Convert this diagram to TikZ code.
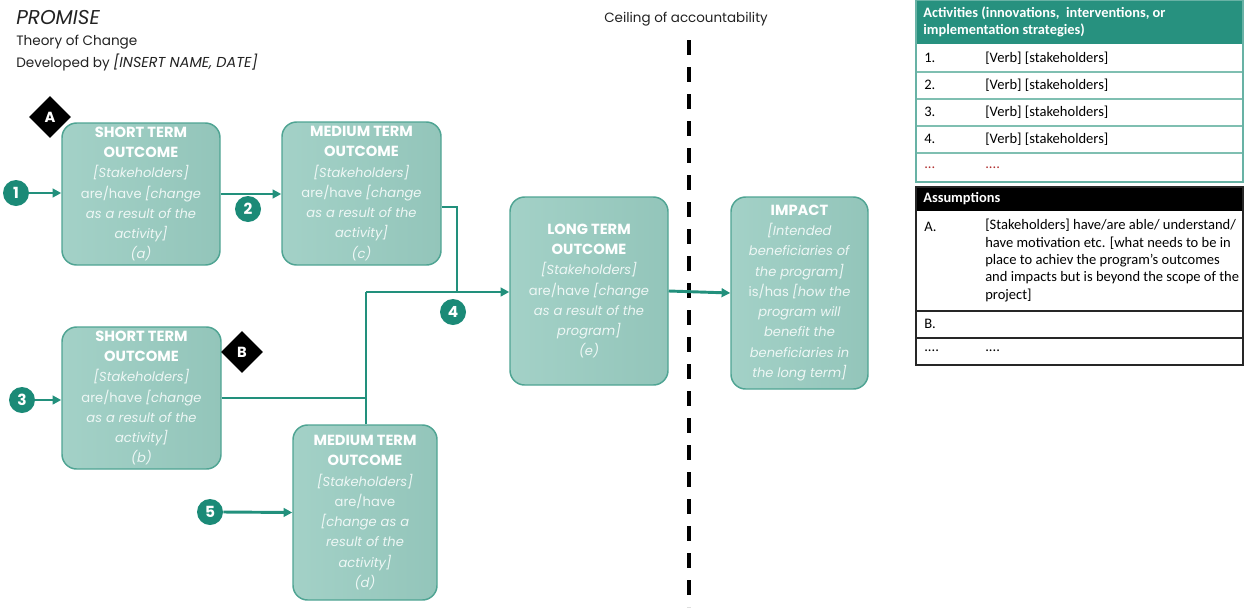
\documentclass[tikz,border=0pt]{standalone}
\usepackage{fontspec}
\setmainfont{Poppins}
\newfontfamily\calib{Carlito}
\usetikzlibrary{shapes.geometric,arrows.meta,calc}
\definecolor{boxL}{HTML}{A3D1C7}
\definecolor{boxR}{HTML}{93C5BA}
\definecolor{boxB}{HTML}{4FA493}
\definecolor{tealdk}{HTML}{1B8A77}
\definecolor{arrc}{HTML}{22907C}
\definecolor{hdteal}{HTML}{27917F}
\definecolor{rowline}{HTML}{7FBFB1}
\definecolor{dotred}{HTML}{B03030}
\definecolor{txt}{HTML}{222222}
\definecolor{bodytxt}{HTML}{EEF7F5}
\newcommand\hd[1]{{\color{white}\fontsize{11}{15.2}\selectfont\bfseries #1}}
\begin{document}
\begin{tikzpicture}[x=0.75pt,y=-0.75pt,
  box/.style={draw=boxB,line width=1.1pt,left color=boxL,right color=boxR,rounded corners=11pt,
    align=center,text=bodytxt,font=\fontsize{9.8}{15.2}\selectfont,inner sep=0pt},
  num/.style={circle,fill=tealdk,text=white,minimum size=19.5pt,inner sep=0pt,font=\fontsize{11.5}{11}\selectfont\bfseries},
  dia/.style={diamond,aspect=1,fill=black,text=white,minimum size=31.5pt,inner sep=0pt,font=\fontsize{11}{11}\selectfont\bfseries},
  line/.style={draw=arrc,line width=2.2pt},
  arr/.style={line,-{Triangle[length=6.5pt,width=6.5pt]}},
  ttxt/.style={anchor=west,inner sep=0pt,font=\calib\fontsize{10.9}{13}\selectfont,text=black},
  thd/.style={anchor=west,inner sep=0pt,font=\calib\fontsize{10.8}{13}\selectfont\bfseries,text=white,align=left}
]
\useasboundingbox (0,0) rectangle (1244,607);

% title
\node[anchor=west,inner sep=0pt,text=txt,font=\fontsize{15}{15}\selectfont\itshape] (t1) at (16,18) {PROMISE};
\node[anchor=west,inner sep=0pt,text=txt,font=\fontsize{10.2}{12}\selectfont] (t2) at (16,42) {Theory of Change};
\node[anchor=west,inner sep=0pt,text=txt,font=\fontsize{10.2}{12}\selectfont] (t3) at (16,62) {Developed by \textit{\fontsize{10.8}{12}\selectfont[INSERT NAME, DATE]}};
\node[inner sep=0pt,text=txt,font=\fontsize{10.1}{12}\selectfont] (ceil) at (686,19) {Ceiling of accountability};

% dashed ceiling line
\coordinate (dtop) at (689,40);
\coordinate (dbot) at (689,607);
\draw[black,line width=2.5pt,dash pattern=on 11.25pt off 9pt] (dtop) -- (dbot);

% boxes
\node[box,minimum width=118.5pt,minimum height=106.5pt] (a) at (141,194)
 {\hd{SHORT TERM}\\\hd{OUTCOME}\\\textit{[Stakeholders]}\\are/have \textit{[change}\\\textit{as a result of the}\\\textit{activity]}\\\textit{(a)}};
\node[box,minimum width=119.25pt,minimum height=107.25pt] (c) at (361.5,193.5)
 {\hd{MEDIUM TERM}\\\hd{OUTCOME}\\\textit{[Stakeholders]}\\are/have \textit{[change}\\\textit{as a result of the}\\\textit{activity]}\\\textit{(c)}};
\node[box,minimum width=119.25pt,minimum height=106.5pt] (b) at (141.5,398)
 {\hd{SHORT TERM}\\\hd{OUTCOME}\\\textit{[Stakeholders]}\\are/have \textit{[change}\\\textit{as a result of the}\\\textit{activity]}\\\textit{(b)}};
\node[box,minimum width=108pt,minimum height=131.25pt] (d) at (365,512.5)
 {\hd{MEDIUM TERM}\\\hd{OUTCOME}\\\textit{[Stakeholders]}\\are/have\\\textit{[change as a}\\\textit{result of the}\\\textit{activity]}\\\textit{(d)}};
\node[box,minimum width=118.5pt,minimum height=141pt] (e) at (589,291)
 {\hd{LONG TERM}\\\hd{OUTCOME}\\\textit{[Stakeholders]}\\are/have \textit{[change}\\\textit{as a result of the}\\\textit{program]}\\\textit{(e)}};
\node[box,minimum width=102.75pt,minimum height=144pt] (imp) at (799.5,293)
 {\hd{IMPACT}\\\textit{[Intended}\\\textit{beneficiaries of}\\\textit{the program]}\\is/has \textit{[how the}\\\textit{program will}\\\textit{benefit the}\\\textit{beneficiaries in}\\\textit{the long term]}};

% numbered circles
\node[num] (n1) at (16,193) {1};
\node[num] (n2) at (248,209) {2};
\node[num] (n3) at (22,400) {3};
\node[num] (n4) at (453,312) {4};
\node[num] (n5) at (210,512) {5};

% diamonds
\node[dia] (dA) at (50,117) {A};
\node[dia] (dB) at (242,352) {B};

% connectors
\coordinate (k) at (457,292);
\coordinate (j) at (366,292);
\draw[arr] (n1.east) -- (n1 -| a.west);
\draw[arr] (a.east) -- (a.east -| c.west);
\draw[line] ($(c.east)+(0,13.5)$) -| (k);
\draw[arr] (j) -- (j -| e.west);
\draw[line] (j |- d.north) -- (j);
\draw[line] (b.east) -- (b.east -| j);
\draw[arr] (n3.east) -- (n3 -| b.west);
\draw[arr] (n5.east) -- (d.west);
\draw[arr] (e.east) -- (imp.west);

% Activities table
\fill[hdteal] (916,0) rectangle (1243,44);
\node[thd] (ah) at (923,22) {Activities (innovations,\ \ interventions, or\\implementation strategies)};
\foreach \yy in {72,99,126,153}{\draw[rowline,line width=0.8pt] (916,\yy) -- (1243,\yy);}
\draw[hdteal!70,line width=1.2pt] (916,0) rectangle (1243,182);
\node[ttxt] (r1) at (924,58) {1.};
\node[ttxt] (r1t) at (985,58) {[Verb] [stakeholders]};
\node[ttxt] (r2) at (924,85) {2.};
\node[ttxt] (r2t) at (985,85) {[Verb] [stakeholders]};
\node[ttxt] (r3) at (924,112) {3.};
\node[ttxt] (r3t) at (985,112) {[Verb] [stakeholders]};
\node[ttxt] (r4) at (924,139) {4.};
\node[ttxt] (r4t) at (985,139) {[Verb] [stakeholders]};
\node[ttxt,text=dotred] (r5) at (924,168) {...};
\node[ttxt,text=dotred] (r5t) at (985,168) {....};

% Assumptions table
\fill[black] (916,187) rectangle (1243,211);
\node[thd] (sh) at (923,199) {Assumptions};
\draw[black!85,line width=0.8pt] (916,311) -- (1243,311);
\draw[black!85,line width=0.8pt] (916,338) -- (1243,338);
\draw[black!85,line width=1pt] (916,187) rectangle (1243,365);
\node[ttxt,anchor=base west] (sa) at (924,231) {A.};
\node[ttxt,anchor=north west,align=left] (sat) at (985,219) {[Stakeholders] have/are able/ understand/\\have motivation etc. [what needs to be in\\place to achiev the program’s outcomes\\and impacts but is beyond the scope of the\\project]};
\node[ttxt] (sbb) at (924,324) {B.};
\node[ttxt] (sc) at (924,351) {....};
\node[ttxt] (sct) at (985,351) {....};
\end{tikzpicture}
\end{document}
